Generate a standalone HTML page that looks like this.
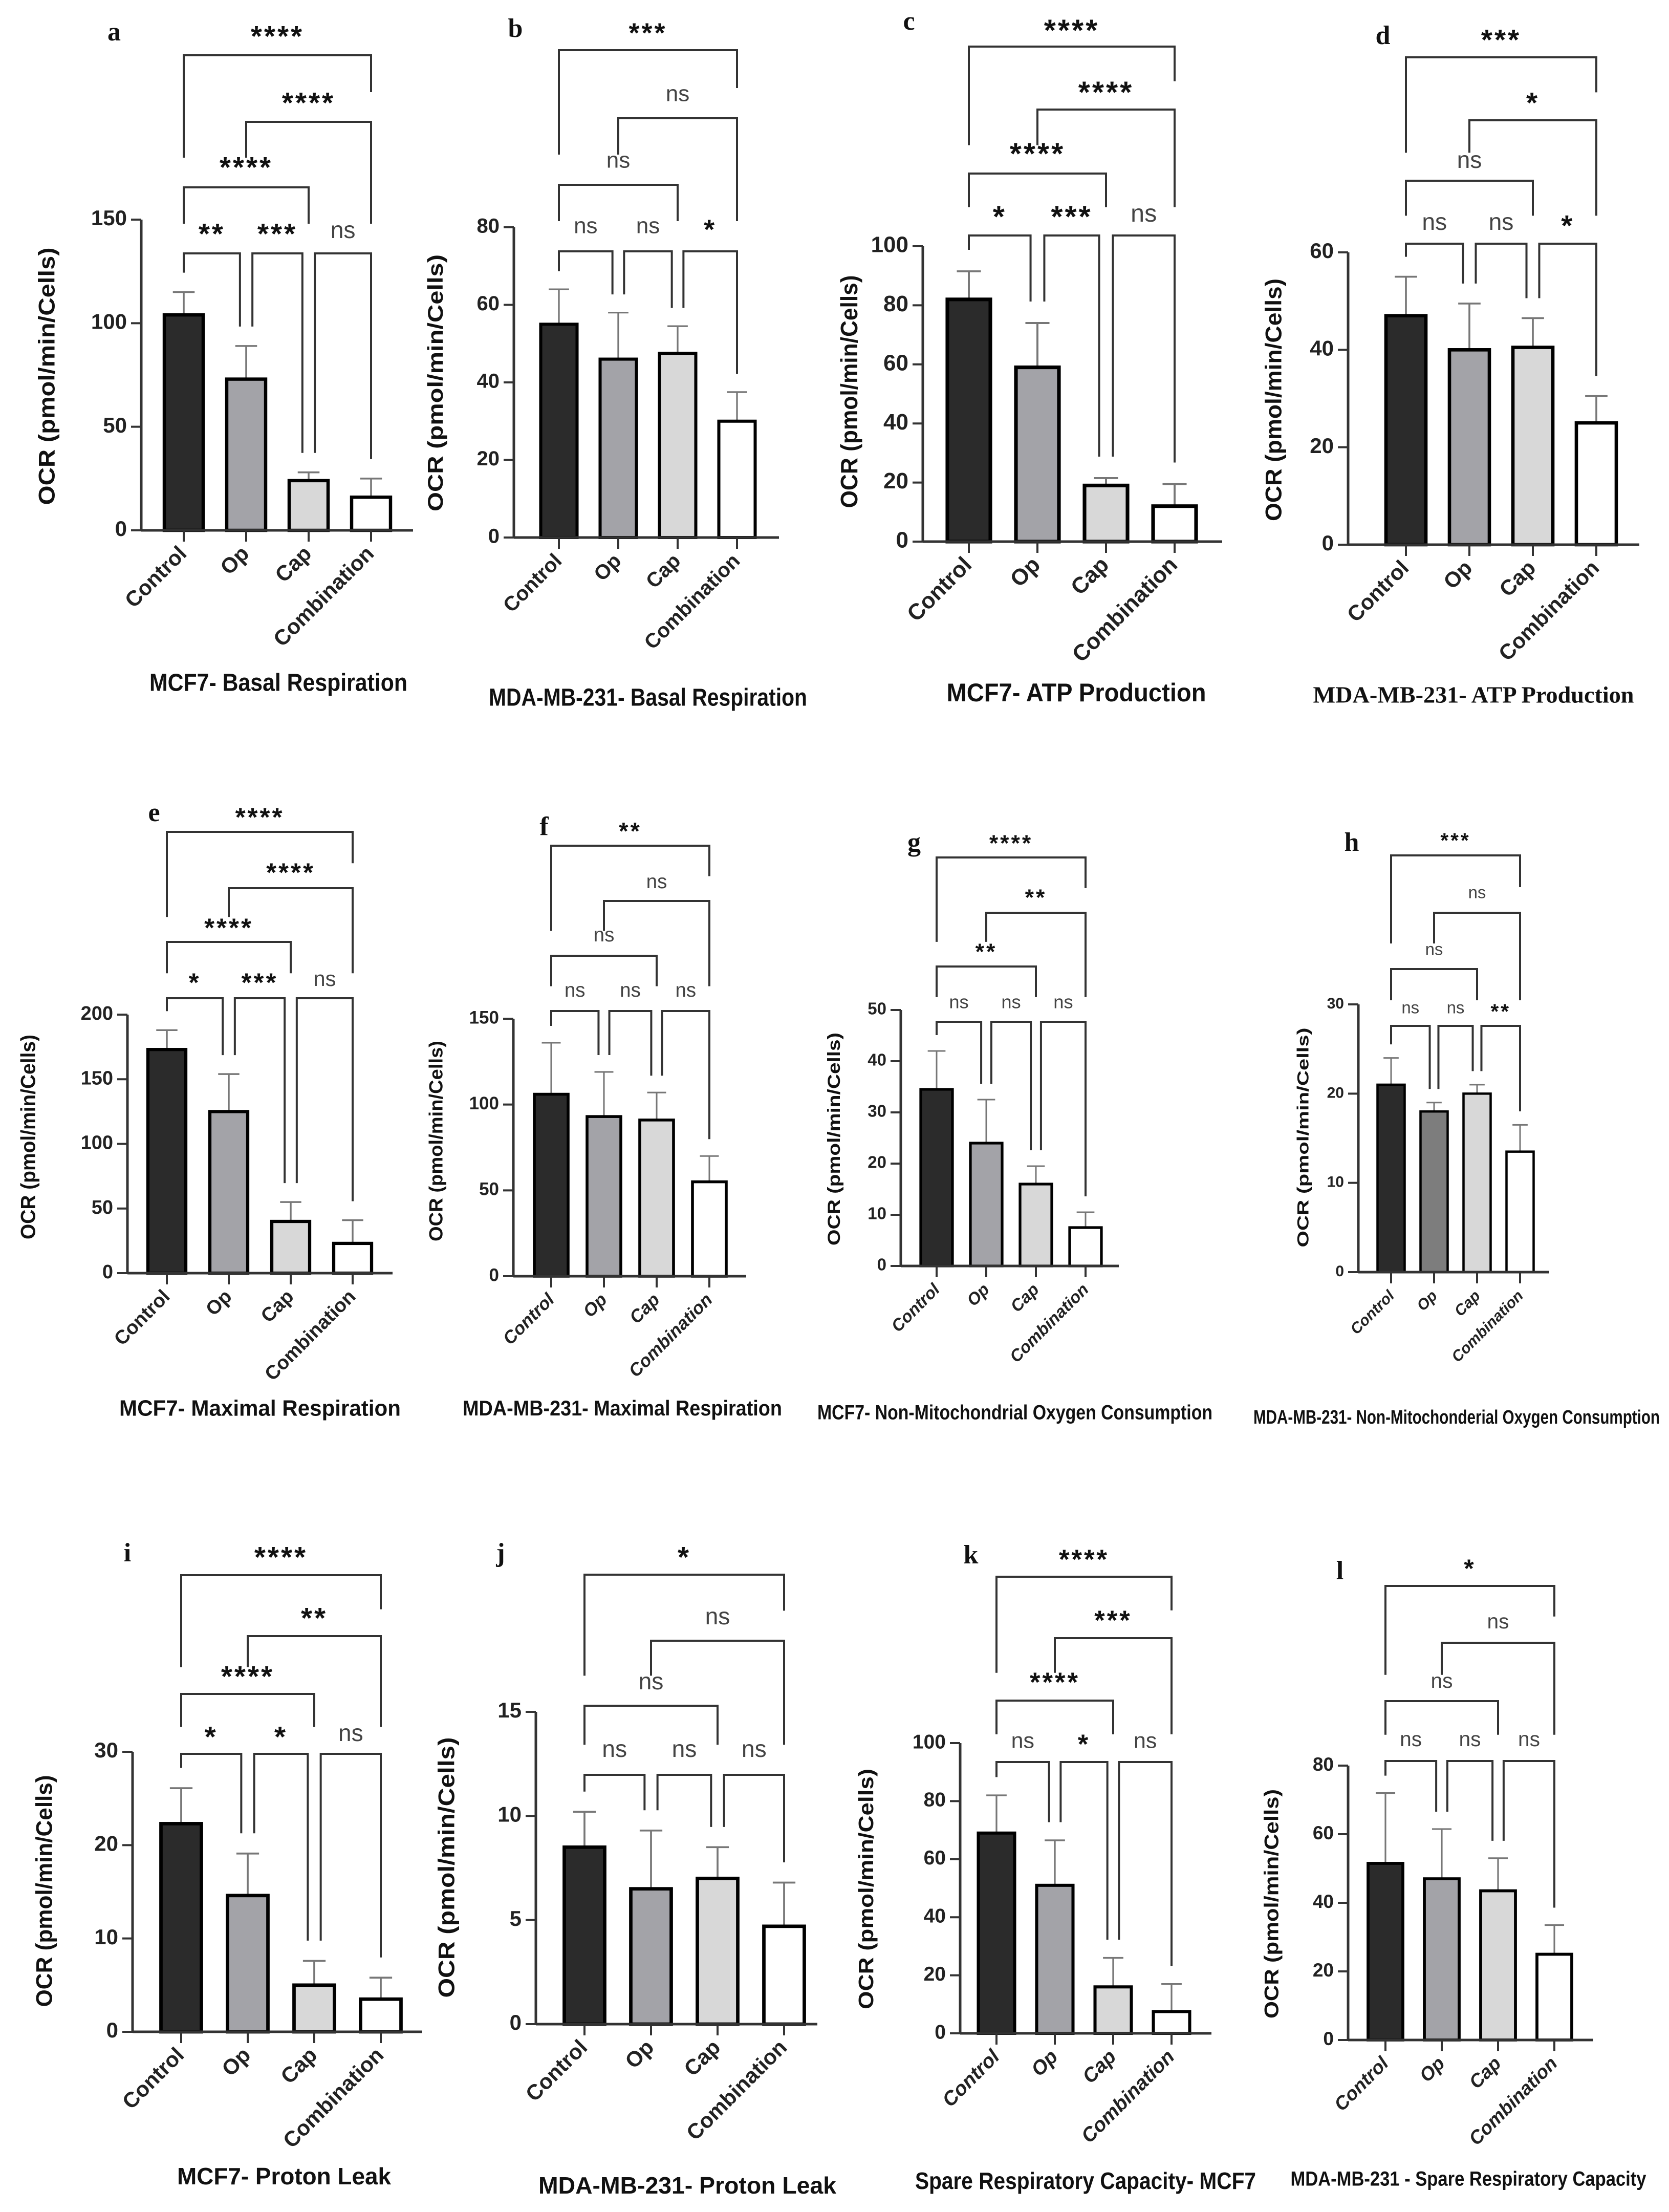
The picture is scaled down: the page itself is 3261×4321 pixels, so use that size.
<!DOCTYPE html>
<html>
<head>
<meta charset="utf-8">
<style>
html,body{margin:0;padding:0;background:#fff;}
svg{display:block;}
</style>
</head>
<body>
<svg id="fig" xmlns="http://www.w3.org/2000/svg" width="3261" height="4321" viewBox="0 0 3261 4321">
<rect x="0" y="0" width="3261" height="4321" fill="#ffffff"/>
</svg>
<script>
const categories = ["Control","Op","Cap","Combination"];
const valuesA = [104,73,24,16];   const errorsA = [11,16,4,9];
const valuesB = [55,46,47.5,30];  const errorsB = [9,12,7,7.5];
const valuesC = [82,59,19,12];    const errorsC = [9.5,15,2.5,7.5];
const valuesD = [47,40,40.5,25];  const errorsD = [8,9.5,6,5.5];
const valuesE = [173,125,40,23];  const errorsE = [15,29,15,18];
const valuesF = [106,93,91,55];   const errorsF = [30,26,16,15];
const valuesG = [34.5,24,16,7.5]; const errorsG = [7.5,8.5,3.5,3];
const valuesH = [21,18,20,13.5];  const errorsH = [3,1,1,3];
const valuesI = [22.3,14.6,5,3.5];const errorsI = [3.8,4.5,2.6,2.3];
const valuesJ = [8.5,6.5,7,4.7];  const errorsJ = [1.7,2.8,1.5,2.1];
const valuesK = [69,51,16,7.5];   const errorsK = [13,15.5,10,9.5];
const valuesL = [51.5,47,43.5,25];const errorsL = [20.5,14.5,9.5,8.5];
const ticksA = [0,50,100,150];
const ticksB = [0,20,40,60,80];
const ticksC = [0,20,40,60,80,100];
const ticksD = [0,20,40,60];
const ticksE = [0,50,100,150,200];
const ticksF = [0,50,100,150];
const ticksG = [0,10,20,30,40,50];
const ticksH = [0,10,20,30];
const ticksI = [0,10,20,30];
const ticksJ = [0,5,10,15];
const ticksK = [0,20,40,60,80,100];
const ticksL = [0,20,40,60,80];
const sigA = ["****","****","****","**","***","ns"];
const sigB = ["***","ns","ns","ns","ns","*"];
const sigC = ["****","****","****","*","***","ns"];
const sigD = ["***","*","ns","ns","ns","*"];
const sigE = ["****","****","****","*","***","ns"];
const sigF = ["**","ns","ns","ns","ns","ns"];
const sigG = ["****","**","**","ns","ns","ns"];
const sigH = ["***","ns","ns","ns","ns","**"];
const sigI = ["****","**","****","*","*","ns"];
const sigJ = ["*","ns","ns","ns","ns","ns"];
const sigK = ["****","***","****","ns","*","ns"];
const sigL = ["*","ns","ns","ns","ns","ns"];

const panels = [
 {id:"a",vals:valuesA,errs:errorsA,ticks:ticksA,sig:sigA,lx:223,ly:67,ax:276,y0:1036,ytop:429,xend:807,c0:359,dx:122,bw:76,by:[108,238,366,495],ty:[67,197,323,453],title:"MCF7- Basal Respiration",tx:544,tty:1337,tlen:504,tfs:48,ytx:95,ytc:735,ylen:503,fs:42,italic:false,serif:false},
 {id:"b",vals:valuesB,errs:errorsB,ticks:ticksB,sig:sigB,lx:1007,ly:60,ax:1004,y0:1050,ytop:444,xend:1522,c0:1092,dx:116,bw:71,by:[98,231,361,491],ty:[60,186,316,444],title:"MDA-MB-231- Basal Respiration",tx:1266,tty:1366,tlen:622,tfs:48,ytx:854,ytc:748,ylen:502,fs:40,italic:false,serif:false},
 {id:"c",vals:valuesC,errs:errorsC,ticks:ticksC,sig:sigC,lx:1776,ly:46,ax:1803,y0:1058,ytop:481,xend:2388,c0:1893,dx:134,bw:84,by:[91,214,339,460],ty:[56,177,297,420],title:"MCF7- ATP Production",tx:2103,tty:1357,tlen:507,tfs:50,ytx:1663,ytc:765,ylen:455,fs:44,italic:false,serif:false},
 {id:"d",vals:valuesD,errs:errorsD,ticks:ticksD,sig:sigD,lx:2702,ly:74,ax:2634,y0:1064,ytop:493,xend:3203,c0:2747,dx:124,bw:78,by:[112,235,353,476],ty:[74,197,316,437],title:"MDA-MB-231- ATP Production",tx:2879,tty:1362,tlen:627,tfs:46,ytx:2492,ytc:781,ylen:474,fs:42,italic:false,serif:true},
 {id:"e",vals:valuesE,errs:errorsE,ticks:ticksE,sig:sigE,lx:301,ly:1592,ax:249,y0:2487,ytop:1982,xend:767,c0:326,dx:121,bw:74,by:[1625,1735,1840,1950],ty:[1592,1700,1808,1915],title:"MCF7- Maximal Respiration",tx:508,tty:2754,tlen:550,tfs:44,ytx:58,ytc:2221,ylen:400,fs:38,italic:false,serif:false},
 {id:"f",vals:valuesF,errs:errorsF,ticks:ticksF,sig:sigF,lx:1063,ly:1619,ax:1003,y0:2493,ytop:1990,xend:1458,c0:1077,dx:103,bw:66,by:[1652,1760,1867,1975],ty:[1619,1725,1829,1937],title:"MDA-MB-231- Maximal Respiration",tx:1216,tty:2754,tlen:624,tfs:42,ytx:855,ytc:2229,ylen:392,fs:35,italic:true,serif:false},
 {id:"g",vals:valuesG,errs:errorsG,ticks:ticksG,sig:sigG,lx:1786,ly:1650,ax:1760,y0:2473,ytop:1973,xend:2186,c0:1830,dx:97,bw:62,by:[1675,1783,1888,1996],ty:[1642,1748,1854,1960],title:"MCF7- Non-Mitochondrial Oxygen Consumption",tx:1983,tty:2762,tlen:772,tfs:40,ytx:1632,ytc:2225,ylen:416,fs:33,italic:true,serif:false},
 {id:"h",vals:valuesH,errs:errorsH,ticks:ticksH,sig:sigH,lx:2641,ly:1650,ax:2654,y0:2485,ytop:1962,xend:3027,c0:2718,dx:84,bw:53,by:[1671,1783,1893,2004],ty:[1637,1746,1857,1971],title:"MDA-MB-231- Non-Mitochonderial Oxygen Consumption",tx:2846,tty:2771,tlen:794,tfs:38,ytx:2548,ytc:2222,ylen:429,fs:30,italic:true,serif:false,opDark:true},
 {id:"i",vals:valuesI,errs:errorsI,ticks:ticksI,sig:sigI,lx:249,ly:3038,ax:259,y0:3969,ytop:3422,xend:825,c0:354,dx:130,bw:79,by:[3077,3196,3309,3426],ty:[3038,3157,3271,3389],title:"MCF7- Proton Leak",tx:555,tty:4255,tlen:418,tfs:46,ytx:90,ytc:3694,ylen:453,fs:42,italic:false,serif:false},
 {id:"j",vals:valuesJ,errs:errorsJ,ticks:ticksJ,sig:sigJ,lx:978,ly:3038,ax:1047,y0:3954,ytop:3344,xend:1597,c0:1142,dx:130,bw:79,by:[3076,3205,3332,3467],ty:[3038,3161,3288,3420],title:"MDA-MB-231- Proton Leak",tx:1343,tty:4273,tlen:582,tfs:46,ytx:876,ytc:3648,ylen:509,fs:42,italic:false,serif:false},
 {id:"k",vals:valuesK,errs:errorsK,ticks:ticksK,sig:sigK,lx:1897,ly:3042,ax:1876,y0:3972,ytop:3405,xend:2367,c0:1947,dx:114,bw:71,by:[3080,3200,3322,3442],ty:[3042,3161,3282,3403],title:"Spare Respiratory Capacity- MCF7",tx:2121,tty:4264,tlen:666,tfs:46,ytx:1695,ytc:3690,ylen:470,fs:39,italic:true,serif:false},
 {id:"l",vals:valuesL,errs:errorsL,ticks:ticksL,sig:sigL,lx:2618,ly:3073,ax:2634,y0:3985,ytop:3449,xend:3113,c0:2707,dx:110,bw:68,by:[3098,3209,3323,3440],ty:[3060,3170,3286,3400],title:"MDA-MB-231 - Spare Respiratory Capacity",tx:2869,tty:4259,tlen:695,tfs:40,ytx:2487,ytc:3719,ylen:448,fs:37,italic:true,serif:false}
];

const NS = "http://www.w3.org/2000/svg";
const svg = document.getElementById("fig");
function mk(tag, attrs, parent){
  const e = document.createElementNS(NS, tag);
  for (const k in attrs) e.setAttribute(k, attrs[k]);
  parent.appendChild(e);
  return e;
}
const SANS = '"Liberation Sans", Arial, sans-serif';
const SERIF = '"Liberation Serif", "Times New Roman", serif';

panels.forEach(p => {
  const g = mk("g", {}, svg);
  
  
  const ymax = p.ticks[p.ticks.length-1];
  const yS = v => p.y0 - (v / ymax) * (p.y0 - p.ytop);
  const xS = i => p.c0 + i * p.dx;
  const lw = Math.max(4, p.bw * 0.085);

  // letter
  const lt = mk("text", {x:p.lx, y:p.ly, "font-family":SERIF, "font-weight":"bold", "font-size":52, "text-anchor":"middle", "dominant-baseline":"middle", fill:"#111"}, g);
  lt.textContent = p.id;
  
  

  // bars
  const fills = ["#2b2b2b", p.opDark ? "#7d7d7d" : "#a3a3a8", "#d8d8d8", "#ffffff"];
  p.vals.forEach((v, i) => {
    const cx = xS(i), top = yS(v);
    // error bar
    const et = yS(v + p.errs[i]);
    const el = mk("line", {x1:cx, y1:top, x2:cx, y2:et, stroke:"#777", "stroke-width":Math.max(3,lw*0.55)}, g);
    
    
    const ec = mk("line", {x1:cx - p.bw*0.28, y1:et, x2:cx + p.bw*0.28, y2:et, stroke:"#777", "stroke-width":Math.max(3,lw*0.55)}, g);
    
    
    const r = mk("rect", {x:cx - p.bw/2, y:top, width:p.bw, height:p.y0 - top, fill:fills[i], stroke:"#000", "stroke-width":lw}, g);
    
    
    // x tick
    mk("line", {x1:cx, y1:p.y0, x2:cx, y2:p.y0 + 22, stroke:"#333", "stroke-width":4}, g);
    // x label
    const lx = cx + 8, ly = p.y0 + 48;
    const xl = mk("text", {x:lx, y:ly, "font-family":SANS, "font-weight":"bold", "font-size":p.fs, "font-style":p.italic?"italic":"normal", "text-anchor":"end", fill:"#222", transform:"rotate(-45 " + lx + " " + ly + ")"}, g);
    xl.textContent = categories[i];
    
    
  });

  // axes
  const ya = mk("line", {x1:p.ax, y1:p.ytop, x2:p.ax, y2:p.y0, stroke:"#333", "stroke-width":5}, g);
  
  
  const xa = mk("line", {x1:p.ax, y1:p.y0, x2:p.xend, y2:p.y0, stroke:"#333", "stroke-width":5}, g);
  
  
  p.ticks.forEach(t => {
    const y = yS(t);
    mk("line", {x1:p.ax - 20, y1:y, x2:p.ax, y2:y, stroke:"#333", "stroke-width":4}, g);
    const tl = mk("text", {x:p.ax - 28, y:y, "font-family":SANS, "font-weight":"bold", "font-size":p.fs, "text-anchor":"end", "dominant-baseline":"middle", fill:"#222"}, g);
    tl.textContent = t;
    
    
  });

  // y title
  const yt = mk("text", {x:0, y:0, "font-family":SANS, "font-weight":"bold", "font-size":p.fs*1.05, "text-anchor":"middle", "dominant-baseline":"middle", fill:"#111", textLength:p.ylen, lengthAdjust:"spacingAndGlyphs", transform:"translate(" + p.ytx + " " + p.ytc + ") rotate(-90)"}, g);
  yt.textContent = "OCR (pmol/min/Cells)";
  
  

  // panel title
  const tt = mk("text", {x:p.tx, y:p.tty, "font-family":p.serif?SERIF:SANS, "font-weight":"bold", "font-size":p.tfs, "text-anchor":"middle", "dominant-baseline":"middle", fill:"#111", textLength:p.tlen, lengthAdjust:"spacingAndGlyphs"}, g);
  tt.textContent = p.title;
  
  

  // brackets: [i, j, levelIndex]
  const off = p.bw * 0.16;
  const brs = [
    {i:0, j:3, lv:0, s:p.sig[0]},
    {i:1, j:3, lv:1, s:p.sig[1]},
    {i:0, j:2, lv:2, s:p.sig[2]},
    {i:0, j:1, lv:3, s:p.sig[3]},
    {i:1, j:2, lv:3, s:p.sig[4]},
    {i:2, j:3, lv:3, s:p.sig[5]}
  ];
  const spacing = (p.by[3] - p.by[0]) / 3;
  function legEnd(k, lv){
    let best = null;
    brs.forEach(b => { if (b.lv > lv && b.i <= k && b.j >= k) { const y = p.by[b.lv]; if (best === null || y < best) best = y; } });
    if (best !== null) return best - spacing * 0.45;
    return yS(p.vals[k] + p.errs[k]) - p.bw * 0.5;
  }
  brs.forEach(b => {
    const y = p.by[b.lv];
    let x1 = xS(b.i), x2 = xS(b.j);
    if (b.lv === 3) { if (b.i > 0) x1 += off; if (b.j < 3) x2 -= off; }
    const d = "M" + x1 + " " + legEnd(b.i, b.lv) + " L" + x1 + " " + y + " L" + x2 + " " + y + " L" + x2 + " " + legEnd(b.j, b.lv);
    const pa = mk("path", {d:d, fill:"none", stroke:"#333", "stroke-width":4}, g);
    
    
    const isNs = b.s === "ns";
    const st = mk("text", {x:(x1 + x2)/2, y:p.ty[b.lv] + (isNs ? 0 : 8), "font-family":SANS, "font-weight":isNs?"normal":"bold", "font-size":isNs ? p.fs*1.1 : p.fs*1.35, "text-anchor":"middle", "dominant-baseline":"middle", fill:isNs?"#444":"#111", "letter-spacing":isNs?0:4}, g);
    st.textContent = b.s;
    
    
  });
});
</script>
</body>
</html>
